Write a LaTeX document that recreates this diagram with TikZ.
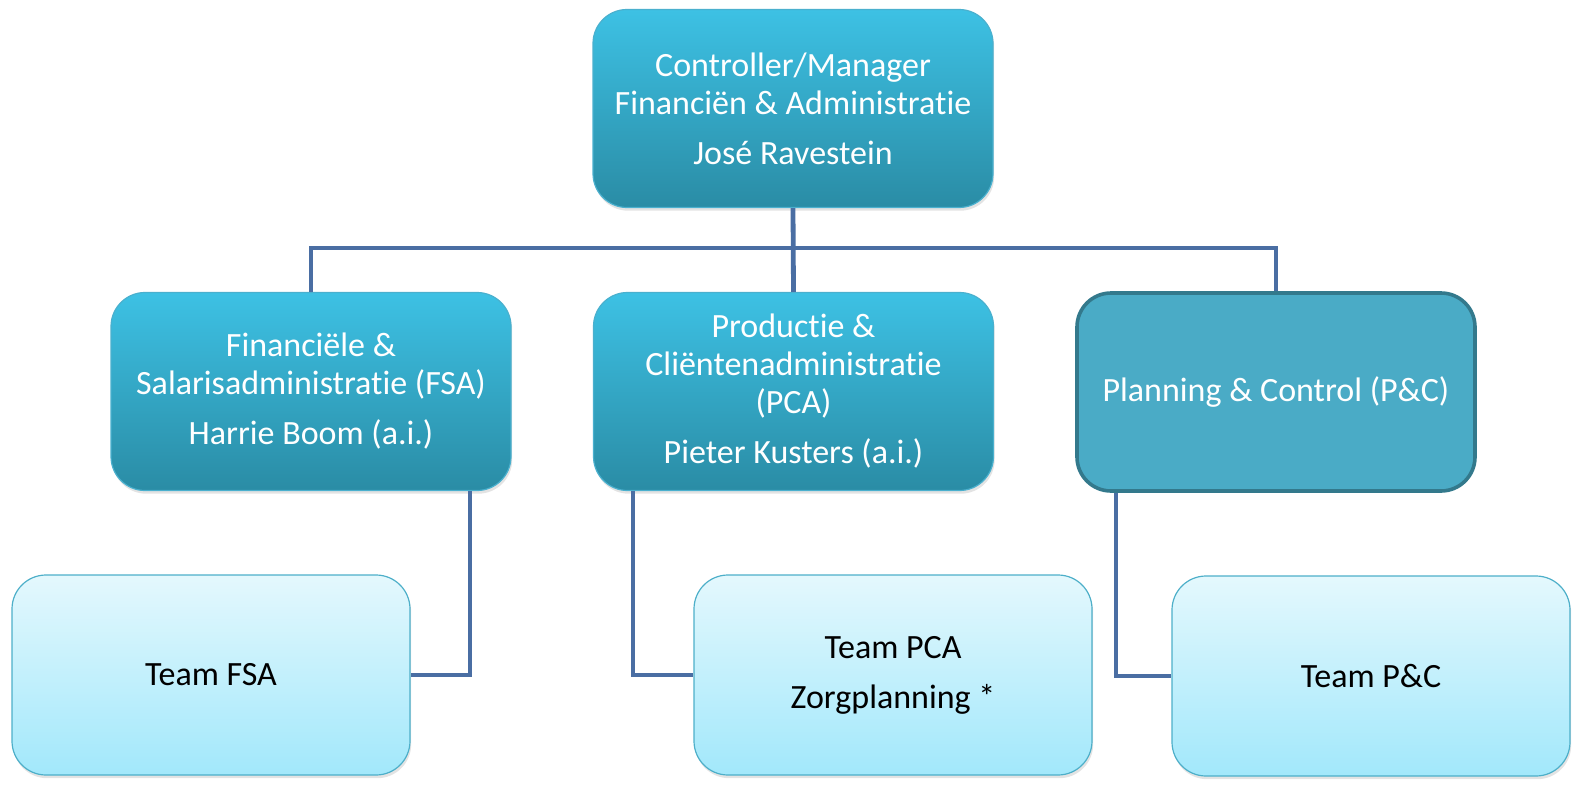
\documentclass[tikz,border=0pt]{standalone}
\usepackage{fontspec}
\setmainfont{Carlito}[Ligatures=NoCommon]
\usetikzlibrary{shadows}
\definecolor{dtop}{HTML}{3DC1E4}
\definecolor{dbot}{HTML}{2A8CA5}
\definecolor{dedge}{HTML}{4AB0CE}
\definecolor{ltop}{HTML}{E4F8FD}
\definecolor{lbot}{HTML}{A2E8FB}
\definecolor{ledge}{HTML}{4DAFC9}
\definecolor{pcfill}{HTML}{4AABC6}
\definecolor{pcedge}{HTML}{33798C}
\definecolor{conncol}{HTML}{4A6EA3}
\tikzset{
  box/.style={rectangle, rounded corners=17pt, align=center, inner sep=0pt,
    font=\fontsize{17pt}{19pt}\selectfont},
  darkbox/.style={box, minimum width=200pt, minimum height=99pt, text=white,
    top color=dtop, bottom color=dbot, draw=dedge, line width=0.6pt,
    drop shadow={opacity=0.22, shadow xshift=0.6pt, shadow yshift=-1.6pt}},
  pcbox/.style={box, minimum width=199pt, minimum height=99pt, text=white,
    fill=pcfill, draw=pcedge, line width=1.8pt},
  teambox/.style={box, minimum width=199pt, minimum height=100pt, text=black,
    top color=ltop, bottom color=lbot, draw=ledge, line width=0.6pt,
    drop shadow={opacity=0.22, shadow xshift=0.6pt, shadow yshift=-1.6pt}},
  conn/.style={draw=conncol, line width=2.4pt}
}
\begin{document}
\begin{tikzpicture}[x=0.5pt, y=-0.5pt]
\node[darkbox] (top) at (793,108.5) {Controller/Manager\\Financiën \& Administratie\\[6pt]José Ravestein};
\node[darkbox] (fsa) at (311,391.5) {Financiële \&\\Salarisadministratie (FSA)\\[6pt]Harrie Boom (a.i.)};
\node[darkbox] (pca) at (793.5,391.5) {Productie \&\\Cliëntenadministratie\\(PCA)\\[6pt]Pieter Kusters (a.i.)};
\node[pcbox] (pc) at (1276,392) {Planning \& Control (P\&C)};
\node[teambox] (tfsa) at (211,675) {Team FSA};
\node[teambox] (tpca) at (893,675) {Team PCA\\[6pt]Zorgplanning *};
\node[teambox] (tpc) at (1371,676) {Team P\&C};
\draw[conn] (top.south) -- (pca.north);
\draw[conn] (fsa.north) -- ++(0,-44) -| (pc.north);
\draw[conn] ([xshift=79.5pt]fsa.south) |- (tfsa.east);
\draw[conn] ([xshift=-80.25pt]pca.south) |- (tpca.west);
\draw[conn] ([xshift=-80pt]pc.south) |- (tpc.west);
\pgfresetboundingbox
\path[use as bounding box] (0,0) rectangle (1592,788);
\end{tikzpicture}
\end{document}
